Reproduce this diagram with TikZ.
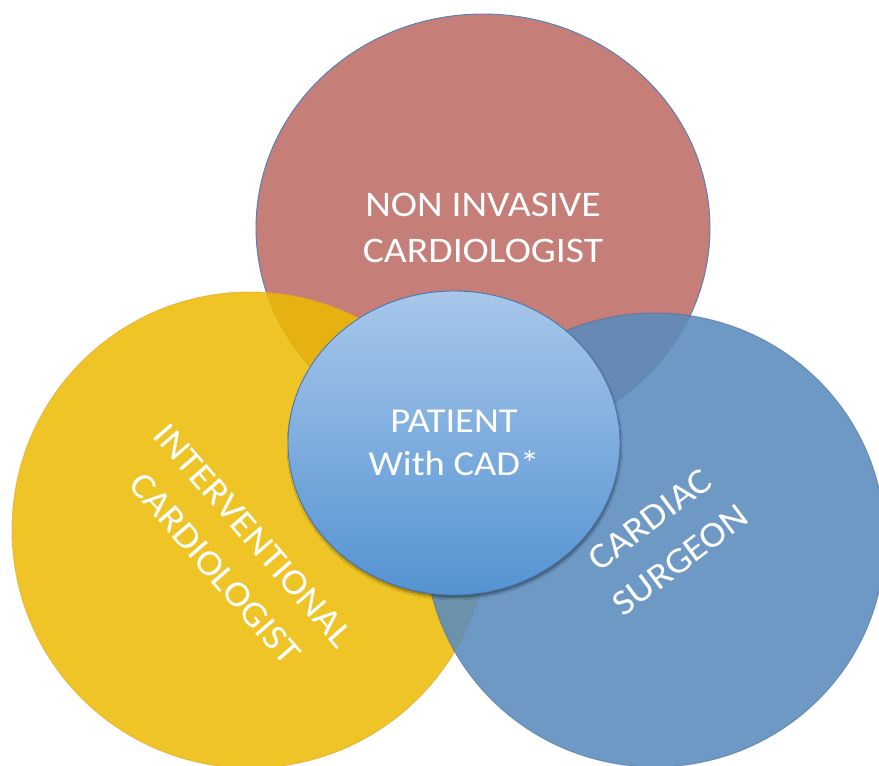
\documentclass[tikz,border=0pt]{standalone}
\usepackage{fontspec}
\setmainfont{Carlito}[FakeStretch=1.1]
\usetikzlibrary{
    shapes.geometric,
    shadows.blur
}
\definecolor{bgWhite}{RGB}{255, 255, 255}
\definecolor{vennRed}{RGB}{198, 126, 120}
\definecolor{vennYellow}{RGB}{237, 186, 0}
\definecolor{vennBlue}{RGB}{90, 140, 190}
\definecolor{edgeBlue}{RGB}{79, 129, 189}
\definecolor{edgeGold}{RGB}{232, 160, 40}
\definecolor{coreTop}{RGB}{168, 199, 234}
\definecolor{coreBottom}{RGB}{84, 147, 210}
\definecolor{coreEdge}{RGB}{72, 120, 178}
\def\picW{879}
\def\picH{766}
\newcommand{\roleFont}{\fontsize{36}{46}\selectfont}
\newcommand{\tiltFont}{\fontsize{36}{51}\selectfont}
\newcommand{\coreFont}{\fontsize{35}{43}\selectfont}
\tikzset{
    bubble/.style={
        ellipse,
        inner sep=0pt,
        outer sep=0pt,
        line width=0.9pt
    },
    redBubble/.style={
        bubble,
        fill=vennRed,
        draw=edgeBlue,
        minimum width=454pt,
        minimum height=428pt
    },
    yellowBubble/.style={
        bubble,
        fill=vennYellow,
        fill opacity=0.85,
        draw=edgeGold,
        draw opacity=0.6,
        minimum width=476pt,
        minimum height=476pt
    },
    blueBubble/.style={
        bubble,
        fill=vennBlue,
        fill opacity=0.88,
        draw=edgeBlue!80!black,
        draw opacity=0.5,
        minimum width=460pt,
        minimum height=454pt
    },
    coreBubble/.style={
        bubble,
        top color=coreTop,
        bottom color=coreBottom,
        draw=coreEdge,
        minimum width=332pt,
        minimum height=304pt,
        blur shadow={shadow xshift=1pt, shadow yshift=-3pt, shadow blur steps=6, shadow opacity=40}
    },
    roleText/.style={
        text=white,
        align=center,
        font=\roleFont,
        inner sep=0pt
    },
    tiltText/.style={
        roleText,
        font=\tiltFont
    }
}

\begin{document}
\begin{tikzpicture}[x=1pt, y=1pt]
    \useasboundingbox (0,0) rectangle (\picW, \picH);
    \fill[bgWhite] (0,0) rectangle (\picW, \picH);

    % Specialists
    \node[redBubble, roleText] (nonInvasive) at (483, 538) {NON INVASIVE\\CARDIOLOGIST};
    \node[yellowBubble] (interventional) at (250, 236) {};
    \node[blueBubble] (surgeon) at (655, 226) {};

    \node[tiltText, rotate=-49] (interventionalText) at (234, 214) {INTERVENTIONAL\\CARDIOLOGIST};
    \node[tiltText, rotate=37] (surgeonText) at (665, 226) {CARDIAC\\SURGEON};

    % Patient in the middle
    \node[coreBubble, roleText, font=\coreFont] (patient) at (454, 323) {PATIENT\\With CAD*};
\end{tikzpicture}
\end{document}
